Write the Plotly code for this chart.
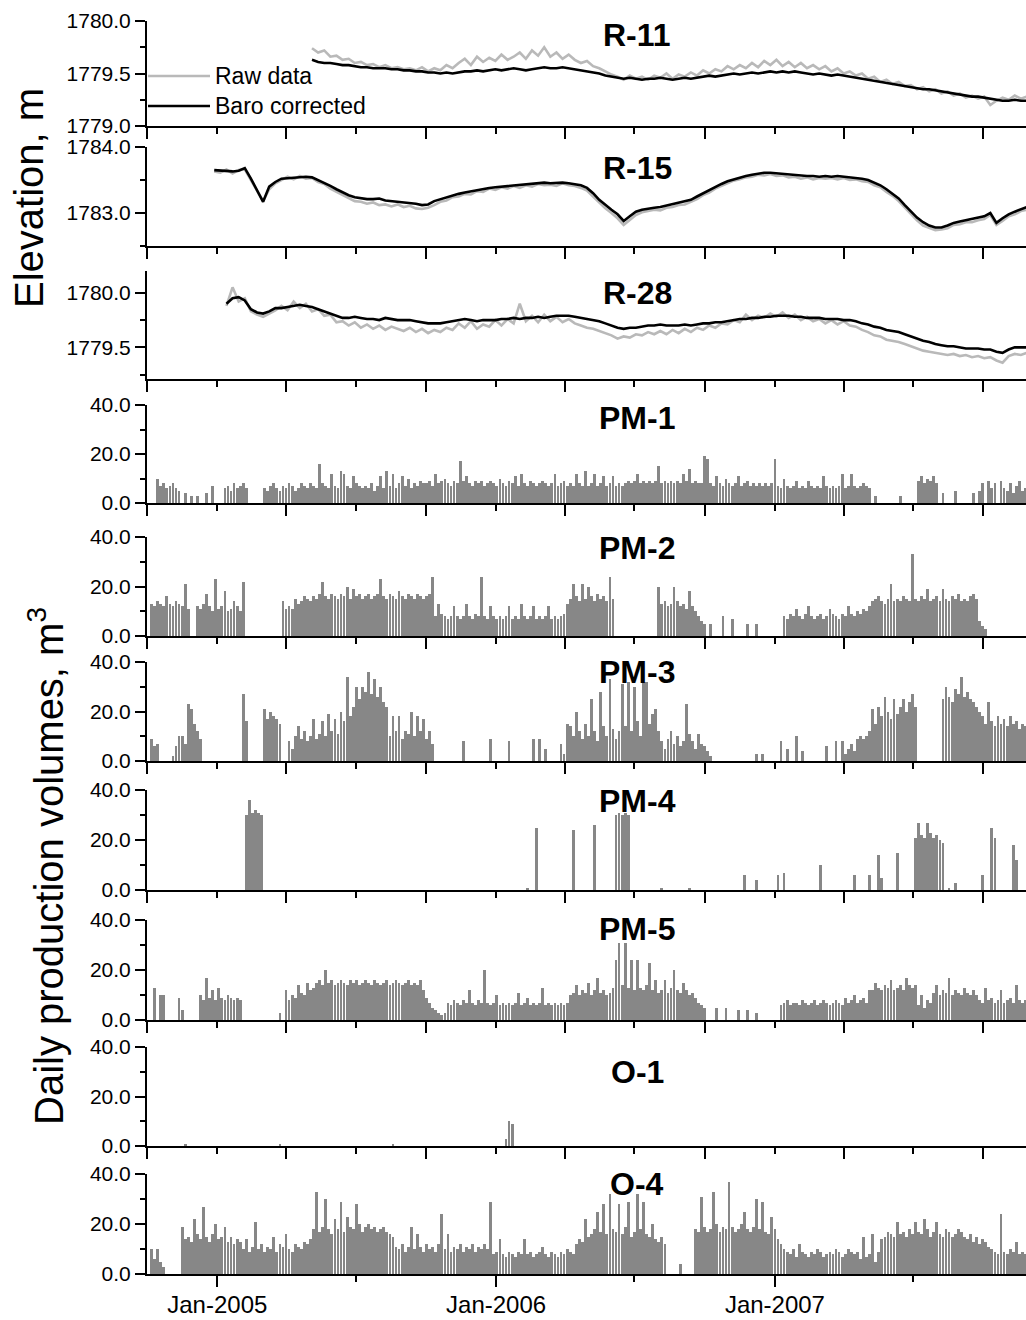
import pandas as pd
import plotly.graph_objects as go

FIG_W, FIG_H = 1026, 1320

# ------------------------------------------------------------------ data
X_START, X_END = "2004-10-01", "2007-11-25 17:00"
X_TICK_DATES = ["2005-01-01", "2006-01-01", "2007-01-01"]
X_TICK_LABELS = ["Jan-2005", "Jan-2006", "Jan-2007"]

LINE_STEP = "8D"
R11_START = "2005-05-05"
R11_RAW = [
    1779.74, 1779.70, 1779.72, 1779.66, 1779.67, 1779.63, 1779.64, 1779.60, 1779.61, 1779.58,
    1779.59, 1779.56, 1779.58, 1779.55, 1779.56, 1779.54, 1779.55, 1779.53, 1779.56, 1779.52,
    1779.55, 1779.53, 1779.58, 1779.55, 1779.60, 1779.64, 1779.58, 1779.66, 1779.61, 1779.65,
    1779.62, 1779.68, 1779.63, 1779.66, 1779.70, 1779.64, 1779.72, 1779.67, 1779.75, 1779.66,
    1779.70, 1779.64, 1779.68, 1779.63, 1779.60, 1779.62, 1779.57, 1779.55, 1779.52, 1779.49,
    1779.47, 1779.44, 1779.48, 1779.45, 1779.47, 1779.44, 1779.48, 1779.46, 1779.50, 1779.45,
    1779.49, 1779.47, 1779.51, 1779.48, 1779.53, 1779.50, 1779.54, 1779.52, 1779.57, 1779.54,
    1779.58, 1779.55, 1779.60, 1779.56, 1779.62, 1779.58, 1779.63, 1779.57, 1779.61, 1779.56,
    1779.60, 1779.55, 1779.58, 1779.54, 1779.57, 1779.52, 1779.55, 1779.50, 1779.52, 1779.48,
    1779.50, 1779.45, 1779.47, 1779.42, 1779.44, 1779.40, 1779.42, 1779.38, 1779.39, 1779.35,
    1779.37, 1779.33, 1779.35, 1779.31, 1779.33, 1779.29, 1779.31, 1779.27, 1779.29, 1779.26,
    1779.28, 1779.20, 1779.24, 1779.27, 1779.25, 1779.29, 1779.26, 1779.28,
]
R11_BARO = [
    1779.63, 1779.61, 1779.60, 1779.60, 1779.59, 1779.58, 1779.58, 1779.57, 1779.56, 1779.56,
    1779.55, 1779.55, 1779.55, 1779.54, 1779.54, 1779.53, 1779.53, 1779.52, 1779.52, 1779.51,
    1779.51, 1779.50, 1779.51, 1779.50, 1779.51, 1779.52, 1779.52, 1779.53, 1779.52, 1779.53,
    1779.54, 1779.53, 1779.54, 1779.55, 1779.54, 1779.53, 1779.54, 1779.55, 1779.56, 1779.55,
    1779.55, 1779.56, 1779.55, 1779.54, 1779.53, 1779.52, 1779.51, 1779.50, 1779.48, 1779.47,
    1779.46, 1779.45, 1779.46, 1779.45, 1779.44, 1779.45, 1779.45, 1779.46, 1779.45, 1779.44,
    1779.45, 1779.46, 1779.45, 1779.46, 1779.47, 1779.48, 1779.47, 1779.48, 1779.49, 1779.50,
    1779.49, 1779.50, 1779.51, 1779.50, 1779.51, 1779.52, 1779.51, 1779.52, 1779.51, 1779.52,
    1779.51, 1779.50, 1779.49, 1779.50, 1779.49, 1779.48, 1779.49, 1779.48, 1779.47, 1779.46,
    1779.45, 1779.44, 1779.43, 1779.42, 1779.41, 1779.40, 1779.39, 1779.38, 1779.37, 1779.36,
    1779.35, 1779.35, 1779.34, 1779.33, 1779.32, 1779.31, 1779.30, 1779.29, 1779.28, 1779.28,
    1779.27, 1779.26, 1779.25, 1779.24, 1779.24, 1779.25, 1779.24, 1779.24,
]

R15_START = "2004-12-28"
R15_RAW = [
    1783.63, 1783.61, 1783.66, 1783.60, 1783.65, 1783.66, 1783.50, 1783.33, 1783.18, 1783.36,
    1783.45, 1783.50, 1783.55, 1783.51, 1783.56, 1783.52, 1783.53, 1783.47, 1783.44, 1783.37,
    1783.32, 1783.27, 1783.22, 1783.18, 1783.17, 1783.14, 1783.16, 1783.12, 1783.13, 1783.10,
    1783.13, 1783.09, 1783.11, 1783.07, 1783.06, 1783.08, 1783.12, 1783.17, 1783.19, 1783.24,
    1783.25, 1783.29, 1783.28, 1783.33, 1783.32, 1783.37, 1783.35, 1783.39, 1783.37, 1783.41,
    1783.38, 1783.42, 1783.40, 1783.44, 1783.42, 1783.43, 1783.41, 1783.45, 1783.42, 1783.41,
    1783.38, 1783.34, 1783.25, 1783.16, 1783.07, 1783.00, 1782.92, 1782.82, 1782.90, 1782.97,
    1783.01, 1783.03, 1783.05, 1783.04, 1783.08, 1783.09, 1783.12, 1783.13, 1783.17, 1783.21,
    1783.27, 1783.31, 1783.37, 1783.41, 1783.45, 1783.49, 1783.51, 1783.54, 1783.55, 1783.58,
    1783.57, 1783.59, 1783.56, 1783.57, 1783.54, 1783.55, 1783.52, 1783.54, 1783.51, 1783.53,
    1783.52, 1783.53, 1783.51, 1783.53, 1783.50, 1783.51, 1783.48, 1783.47, 1783.42, 1783.39,
    1783.32, 1783.26, 1783.18, 1783.08, 1782.98, 1782.89, 1782.81, 1782.77, 1782.74, 1782.75,
    1782.77, 1782.82, 1782.83, 1782.86, 1782.86, 1782.89, 1782.91, 1782.97, 1782.82, 1782.88,
    1782.95, 1782.98, 1783.03, 1783.05,
]
R15_BARO = [
    1783.65, 1783.64, 1783.63, 1783.63, 1783.64, 1783.68, 1783.52, 1783.35, 1783.17, 1783.40,
    1783.47, 1783.52, 1783.53, 1783.54, 1783.55, 1783.55, 1783.54, 1783.50, 1783.46, 1783.41,
    1783.36, 1783.31, 1783.27, 1783.24, 1783.22, 1783.21, 1783.21, 1783.22, 1783.19, 1783.18,
    1783.18, 1783.17, 1783.16, 1783.14, 1783.12, 1783.13, 1783.18, 1783.21, 1783.24, 1783.27,
    1783.29, 1783.31, 1783.33, 1783.35, 1783.36, 1783.38, 1783.39, 1783.40, 1783.41, 1783.42,
    1783.42, 1783.43, 1783.44, 1783.45, 1783.46, 1783.45, 1783.46, 1783.46, 1783.45, 1783.44,
    1783.42, 1783.38, 1783.30, 1783.20, 1783.12, 1783.05, 1782.98, 1782.88, 1782.95, 1783.02,
    1783.05, 1783.07, 1783.08, 1783.09, 1783.11, 1783.13, 1783.15, 1783.17, 1783.20, 1783.25,
    1783.30, 1783.35, 1783.40, 1783.44, 1783.48, 1783.51, 1783.54, 1783.56, 1783.58, 1783.60,
    1783.61, 1783.61, 1783.60, 1783.59, 1783.58, 1783.57, 1783.56, 1783.56, 1783.56, 1783.55,
    1783.56, 1783.55, 1783.56, 1783.55, 1783.55, 1783.54, 1783.52, 1783.50, 1783.46, 1783.42,
    1783.36, 1783.29, 1783.22, 1783.12, 1783.02, 1782.93, 1782.86, 1782.81, 1782.78, 1782.78,
    1782.81, 1782.85, 1782.87, 1782.89, 1782.90, 1782.92, 1782.95, 1783.00, 1782.85, 1782.92,
    1782.98, 1783.02, 1783.06, 1783.09,
]

R28_START = "2005-01-13"
R28_RAW = [
    1779.88, 1780.05, 1779.92, 1779.95, 1779.83, 1779.80, 1779.78, 1779.81, 1779.84, 1779.88,
    1779.84, 1779.92, 1779.86, 1779.90, 1779.83, 1779.85, 1779.79, 1779.80, 1779.73, 1779.74,
    1779.70, 1779.73, 1779.68, 1779.71, 1779.67, 1779.70, 1779.66, 1779.69, 1779.67, 1779.65,
    1779.68, 1779.64, 1779.67, 1779.63, 1779.66, 1779.64, 1779.68, 1779.66, 1779.72, 1779.68,
    1779.74, 1779.67, 1779.71, 1779.69, 1779.75, 1779.70, 1779.76, 1779.72, 1779.90, 1779.74,
    1779.79, 1779.73, 1779.80, 1779.74, 1779.78, 1779.73, 1779.76, 1779.72, 1779.70, 1779.68,
    1779.67, 1779.65, 1779.63, 1779.61, 1779.58, 1779.60, 1779.59, 1779.62, 1779.61, 1779.64,
    1779.62, 1779.65, 1779.62, 1779.66, 1779.63, 1779.67, 1779.64, 1779.68, 1779.66, 1779.70,
    1779.68, 1779.72, 1779.71, 1779.75, 1779.73, 1779.80, 1779.75, 1779.79, 1779.77, 1779.81,
    1779.78, 1779.82, 1779.77, 1779.80, 1779.75, 1779.78, 1779.74, 1779.76, 1779.72, 1779.75,
    1779.71, 1779.74, 1779.70, 1779.69, 1779.66, 1779.64, 1779.61, 1779.60, 1779.57, 1779.56,
    1779.55, 1779.53, 1779.51, 1779.49, 1779.47, 1779.46, 1779.45, 1779.44, 1779.43, 1779.44,
    1779.42, 1779.43, 1779.41, 1779.42, 1779.40, 1779.41, 1779.38, 1779.36, 1779.42, 1779.44,
    1779.43, 1779.45,
]
R28_BARO = [
    1779.90, 1779.95, 1779.96, 1779.93, 1779.85, 1779.82, 1779.81, 1779.83, 1779.86, 1779.86,
    1779.87, 1779.88, 1779.89, 1779.88, 1779.87, 1779.85, 1779.83, 1779.81, 1779.79, 1779.77,
    1779.77, 1779.78, 1779.77, 1779.76, 1779.76, 1779.75, 1779.77, 1779.76, 1779.75, 1779.75,
    1779.75, 1779.74, 1779.73, 1779.72, 1779.72, 1779.72, 1779.73, 1779.74, 1779.75, 1779.76,
    1779.75, 1779.74, 1779.75, 1779.75, 1779.75, 1779.76, 1779.76, 1779.77, 1779.76, 1779.77,
    1779.77, 1779.78, 1779.77, 1779.78, 1779.79, 1779.79, 1779.79, 1779.78, 1779.77, 1779.76,
    1779.75, 1779.74, 1779.72, 1779.70, 1779.68, 1779.67, 1779.68, 1779.68, 1779.69, 1779.70,
    1779.70, 1779.71, 1779.70, 1779.70, 1779.70, 1779.71, 1779.70, 1779.71, 1779.72, 1779.72,
    1779.73, 1779.73, 1779.74, 1779.75, 1779.76, 1779.76, 1779.77, 1779.77, 1779.78, 1779.78,
    1779.79, 1779.79, 1779.79, 1779.78, 1779.78, 1779.77, 1779.77, 1779.77, 1779.76, 1779.76,
    1779.76, 1779.75, 1779.75, 1779.74, 1779.72, 1779.71, 1779.69, 1779.68, 1779.66, 1779.65,
    1779.64, 1779.62, 1779.60, 1779.58, 1779.56, 1779.55, 1779.53, 1779.52, 1779.51, 1779.51,
    1779.50, 1779.49, 1779.49, 1779.49, 1779.48, 1779.48, 1779.46, 1779.45, 1779.48, 1779.50,
    1779.50, 1779.50,
]

# daily production volumes (m3), one value per 4-day bin from BAR_START
BAR_START = "2004-10-01"
BAR_STEP = "4D"
PM1 = [
    0, 0, 0,
    10, 7, 8, 6, 7, 8, 6, 5,
    0, 4, 0, 3, 0, 3, 0, 0, 4, 0, 7,
    0, 0, 0,
    6, 7, 5, 8, 6, 7, 8, 6,
    0, 0, 0, 0, 0,
    6, 5, 7, 8, 6, 5, 7, 6, 8, 7, 5, 6, 8, 7, 6, 8,
    7, 6, 16, 8, 7, 6, 12, 7, 6, 13, 12, 7, 6, 11, 8, 7, 6, 7,
    6, 8, 5, 7, 11, 6, 13, 7, 12, 6, 8, 11, 7, 10, 6, 8, 7, 9, 8,
    8, 9, 7, 12, 8, 9, 10, 8, 7, 9, 8, 17, 9, 11, 8, 7, 9, 8, 9, 7, 8, 9,
    8, 7, 10, 8, 7, 9, 8, 11, 7, 12, 8, 7, 9, 8, 7, 8, 9, 8, 7, 8, 12, 7, 8, 9, 7, 8,
    7, 12, 8, 7, 13, 7, 8, 12, 7, 8, 11, 7, 8, 11, 7, 8, 7, 8,
    9, 8, 9, 12, 8, 9, 8, 9, 8, 9, 15, 8, 9, 8, 9, 8, 9, 8, 12, 9, 14, 8, 9, 8, 8, 19,
    18, 8, 7, 11, 8, 7, 10, 8, 7, 8, 11, 7, 8, 9, 7, 8, 7, 8, 7, 8, 7, 8, 18,
    7, 6, 10, 7, 6, 7, 9, 6, 7, 6, 9, 7, 6, 7, 6, 11, 7, 6, 7, 6, 7, 12, 6, 7, 12, 7, 6, 7, 8, 7, 6,
    0, 3, 0, 0, 0, 0, 0, 0, 0, 3, 0, 0, 0, 0, 0,
    9, 11, 8, 10, 9, 11, 8,
    0, 4, 0, 0, 0, 5, 0, 0, 0, 0, 0,
    4, 0, 5, 8, 0, 9, 6, 8, 0, 9, 6, 5, 8, 4, 7, 9, 5, 6,
]
PM2 = [
    0,
    13, 12, 14, 13, 12, 16, 13, 12, 14, 13, 12, 21, 11,
    0, 0,
    12, 11, 13, 17, 12, 10, 23, 11, 12, 18, 10, 11, 14, 12, 10, 22,
    0, 0, 0, 0, 0, 0, 0, 0, 0, 0, 0, 0,
    14, 11, 12, 11, 15, 13, 14, 16, 15, 14,
    16, 15, 17, 22, 16, 15, 17, 16, 15, 17, 16, 20, 15, 19, 16, 17, 15, 16, 17, 15,
    16, 17, 23, 16, 15, 17, 16, 15, 18, 16, 15, 17, 16, 15, 17, 16, 15, 16, 17, 24,
    8, 13, 9, 8, 7, 8, 12, 8, 7, 8, 13, 8, 7, 9, 8, 24, 8, 7, 12, 8,
    7, 8, 7, 8, 12, 7, 8, 7, 13, 8, 7, 8, 12, 7, 8, 7, 8, 12, 7, 8, 7, 8, 9,
    13, 15, 21, 16, 14, 21, 15, 20, 16, 14, 17, 15, 16, 14, 24, 15,
    0, 0, 0, 0, 0, 0, 0, 0, 0, 0, 0, 0, 0, 0,
    20, 13, 14, 12, 13, 20, 14, 12, 13, 11, 18, 12, 10, 8, 6, 5,
    0, 5, 0, 0, 0, 8, 0, 0, 7, 0, 0, 0, 0, 5, 0, 0, 5, 0, 0, 0, 0, 0, 0, 0, 0,
    8, 7, 9, 8, 11, 8, 7, 9, 12, 8, 7, 8, 9, 7, 8, 11, 9, 8, 7, 9, 8, 12, 9, 8, 10, 9, 11, 10, 12,
    14, 15, 16, 14, 13, 15, 21, 14, 15, 14, 16, 15, 14, 33, 15, 14, 16, 15, 19, 14,
    15, 16, 14, 19, 15, 14, 16, 15, 17, 14, 15, 14, 16, 17, 15,
    6, 4, 3,
    0, 0, 0, 0, 0, 0, 0, 0, 0, 0, 0, 0, 0,
]
PM3 = [
    0,
    9, 6, 7,
    0, 0, 0, 0,
    2, 6, 10, 10, 7, 23, 21, 15, 12, 9,
    0, 0, 0, 0, 0, 0, 0, 0, 0, 0, 0, 0, 0,
    27, 16,
    0, 0, 0, 0, 0,
    21, 17, 20, 18, 17, 15,
    0, 0,
    8, 5, 10, 14, 9,
    12, 8, 10, 17, 9, 11, 16, 10, 19, 12, 17, 11, 20,
    16, 34, 18, 22, 30, 25, 30, 28, 36, 27, 33, 26, 30, 24, 22,
    10, 18, 12, 18, 9, 12, 11, 20, 10, 18, 12, 17, 9, 12, 7,
    0, 0, 0, 0, 0, 0, 0, 0, 0,
    8,
    0, 0, 0, 0, 0, 0, 0, 0,
    9,
    0, 0, 0, 0, 0,
    8,
    0, 0, 0, 0, 0, 0, 0,
    9, 0, 9, 0, 5,
    0, 0, 0, 0,
    7, 3, 15, 14, 10, 20, 12, 9, 15,
    10, 25, 12, 8, 28, 14, 10, 33, 13, 9, 12, 31,
    14, 32, 12, 30, 16, 10, 32, 32, 15, 19, 21,
    12, 8, 5, 9, 12, 7, 10, 6, 8, 23, 11,
    8, 5, 11, 7, 6, 4, 2, 0,
    0, 0, 0, 0, 0, 0, 0, 0, 0, 0, 0, 0, 0,
    3, 0, 3, 0, 0, 0, 0, 0, 8, 0, 5, 0, 0, 10, 0, 4,
    0, 0, 0, 0, 0, 0, 0, 6, 0, 0, 8, 0, 8, 3, 5, 7, 4,
    9, 10, 9, 10,
    12, 21, 15, 22, 18, 26, 20, 17, 25, 19, 22, 25, 20, 24, 27, 22,
    0, 0, 0, 0, 0, 0, 0, 0,
    25, 30, 26, 24, 29, 27, 34, 26, 28, 25, 24, 22, 20, 18,
    15, 24, 16, 14, 18, 15, 17, 14, 18, 15, 16, 13, 15, 14,
]
PM4 = [
    0, 0, 0, 0, 0, 0, 0, 0, 0, 0, 0, 0, 0, 0, 0, 0, 0, 0, 0, 0, 0, 0, 0, 0,
    0, 0, 0, 0, 0, 0, 0, 0, 30, 36, 31, 32, 31, 30, 0, 0, 0, 0, 0, 0, 0, 0, 0, 0,
    0, 0, 0, 0, 0, 0, 0, 0, 0, 0, 0, 0, 0, 0, 0, 0, 0, 0, 0, 0, 0, 0, 0, 0,
    0, 0, 0, 0, 0, 0, 0, 0, 0, 0, 0, 0, 0, 0, 0, 0, 0, 0, 0, 0, 0, 0, 0, 0,
    0, 0, 0, 0, 0, 0, 0, 0, 0, 0, 0, 0, 0, 0, 0, 0, 0, 0, 0, 0, 0, 0, 0, 0,
    0, 0, 0, 0, 1, 0, 0, 25, 0, 0, 0, 0, 0, 0, 0, 0, 0, 0, 0, 24, 0, 0, 0, 0,
    0, 0, 26, 0, 0, 0, 0, 0, 0, 30, 31, 30, 31, 30, 0, 0, 0, 0, 0, 0, 0, 0, 0, 0,
    1, 0, 0, 0, 0, 0, 0, 0, 0, 1, 0, 0, 0, 0, 0, 0, 0, 0, 0, 0, 0, 0, 0, 0,
    0, 0, 0, 6, 0, 0, 0, 4, 0, 0, 0, 0, 0, 0, 6, 0, 7, 0, 0, 0, 0, 0, 0, 0,
    0, 0, 0, 0, 10, 0, 0, 0, 0, 0, 0, 0, 0, 0, 0, 6, 0, 0, 0, 0, 6, 0, 0, 14,
    5, 0, 0, 0, 0, 15, 0, 0, 0, 0, 0, 21, 27, 22, 21, 27, 23, 21, 22, 20, 19, 0, 1, 0,
    3, 0, 0, 0, 0, 0, 0, 0, 0, 6, 0, 0, 25, 21, 0, 0, 0, 0, 0, 18, 12, 0, 0, 0,
]
PM5 = [
    0, 0,
    13, 0, 10, 10,
    0, 0, 0, 0,
    9, 4,
    0, 0, 0, 0, 0,
    10, 8, 17, 9, 12, 8, 13, 9, 8, 10, 9, 8, 9, 8,
    0, 0, 0, 0, 0, 0, 0, 0, 0, 0, 0, 0,
    3, 0,
    12, 8, 10, 9, 14, 11, 10, 15, 12, 13,
    15, 16, 14, 20, 15, 16, 14, 15, 16, 15, 14, 16, 15,
    16, 14, 15, 16, 15, 14, 16, 15, 14, 15, 16, 14, 15, 16, 15, 14, 15, 16, 14, 15, 14, 16,
    12, 9, 7, 5, 4, 3, 2, 3,
    7, 6, 8, 7, 6, 8, 7, 12, 7, 6, 8, 7, 20, 7, 6,
    7, 10, 6, 7, 6, 7, 6, 7, 11, 6, 7, 9, 6, 7, 6, 7, 13, 6, 7, 6, 7, 6, 7, 6, 7, 10,
    11, 14, 10, 12, 11, 15, 10, 12, 17, 11, 12, 10, 11,
    13, 24, 31, 14, 31, 13, 24, 12, 24, 13, 12, 14,
    23, 12, 16, 11, 12, 16, 11, 13, 20, 12, 11, 15, 12, 10, 11, 9, 7, 6, 5,
    0, 0, 0, 5, 0, 0, 5, 0, 0, 0, 4, 0, 0, 4, 0, 0, 3, 0, 0, 0, 0, 0, 0, 0,
    6, 7, 8, 6, 7, 7, 6, 8, 7, 6, 7, 8, 6, 7, 8, 7, 6, 7, 8, 7, 6, 9, 7, 8, 10, 7, 8, 9, 7, 12,
    12, 15, 13, 12, 14, 13, 16, 12, 13, 14, 12, 17, 14, 13, 14,
    6, 10, 5, 8, 7,
    11, 14, 10, 12, 11, 17, 10, 12, 11, 10, 13, 11, 10, 12, 10,
    8, 7, 13, 8, 9, 7, 8, 12, 7, 8, 9, 7, 14, 8, 7, 8,
]
O1 = [
    0, 0, 0, 0, 0, 0, 0, 0, 0, 0, 0, 0, 0.5, 0, 0, 0, 0, 0, 0, 0, 0, 0, 0, 0,
    0, 0, 0, 0, 0, 0, 0, 0, 0, 0, 0, 0, 0, 0, 0, 0, 0, 0, 0, 0.5, 0, 0, 0, 0,
    0, 0, 0, 0, 0, 0, 0, 0, 0, 0, 0, 0, 0, 0, 0, 0, 0, 0, 0, 0, 0, 0, 0, 0,
    0, 0, 0, 0, 0, 0, 0, 0, 0.5, 0, 0, 0, 0, 0, 0, 0, 0, 0, 0, 0, 0, 0, 0, 0,
    0, 0, 0, 0, 0, 0, 0, 0, 0, 0, 0, 0, 0, 0, 0, 0, 0, 0, 0, 0, 0, 3, 10, 9,
    0, 0, 0, 0, 0, 0, 0, 0, 0, 0, 0, 0, 0, 0, 0, 0, 0, 0, 0, 0, 0, 0, 0, 0,
    0, 0, 0, 0, 0, 0, 0, 0, 0, 0, 0, 0, 0, 0, 0, 0, 0, 0, 0, 0, 0, 0, 0, 0,
    0, 0, 0, 0, 0, 0, 0, 0, 0, 0, 0, 0, 0, 0, 0, 0, 0, 0, 0, 0, 0, 0, 0, 0,
    0, 0, 0, 0, 0, 0, 0, 0, 0, 0, 0, 0, 0, 0, 0, 0, 0, 0, 0, 0, 0, 0, 0, 0,
    0, 0, 0, 0, 0, 0, 0, 0, 0, 0, 0, 0, 0, 0, 0, 0, 0, 0, 0, 0, 0, 0, 0, 0,
    0, 0, 0, 0, 0, 0, 0, 0, 0, 0, 0, 0, 0, 0, 0, 0, 0, 0, 0, 0, 0, 0, 0, 0,
    0, 0, 0, 0, 0, 0, 0, 0, 0, 0, 0, 0, 0, 0, 0, 0, 0, 0, 0, 0, 0, 0, 0, 0,
]
O4 = [
    0,
    10, 6, 10, 5, 3,
    0, 0, 0, 0, 0,
    19, 14, 15, 13, 22, 16, 14, 27, 15, 13, 16, 20, 14, 15, 19, 13, 15, 12, 14, 13,
    10, 14, 9, 11, 21, 10, 12, 9, 11, 10, 15, 9, 12, 11, 16, 10, 9, 12, 11, 10, 13, 12, 14,
    18, 33, 17, 19, 30, 18, 16, 22, 18, 29, 17, 23, 19, 18, 28, 20, 17, 19, 20, 18, 19, 17, 18, 19, 17, 16, 15,
    11, 10, 12, 9, 11, 19, 10, 16, 11, 9, 12, 10, 11, 9, 12, 24, 10, 16, 9, 11, 10, 12, 9, 11, 10, 12, 9, 11, 10, 12, 10, 29,
    8, 9, 14, 8, 7, 9, 8, 7, 9, 8, 14, 8, 9, 7, 8, 9, 11, 8, 7, 9, 8, 7, 9, 8, 10, 9, 8, 12,
    14, 13, 22, 15, 16, 18, 25, 17, 28, 16, 32, 18, 17, 28, 16, 19, 29, 15, 17, 32, 18, 29, 16, 15, 20, 14, 13, 15, 12,
    0, 0, 0, 0, 4, 0, 0, 0, 0,
    18, 17, 31, 19, 17, 18, 33, 20, 17, 19, 18, 37, 19, 17, 18, 20, 25, 18, 17, 19, 30, 18, 29, 17, 16, 23, 18, 14, 12, 10,
    9, 8, 10, 7, 12, 9, 8, 7, 9, 8, 10, 9, 7, 8, 9, 8, 10, 9, 7, 8, 10, 9, 8, 9,
    6, 15, 7, 8, 16, 5, 9,
    14, 15, 17, 16, 15, 21, 16, 17, 15, 18, 16, 21, 17, 16, 22, 18, 15, 17, 21, 16,
    15, 18, 17, 15, 16, 18, 17, 15, 14, 16, 13, 15, 12, 14, 13, 11, 10,
    9, 8, 24, 9, 8, 10, 9, 13, 8, 9, 8,
]

LINE_PANELS = [
    ("R-11", R11_START, R11_RAW, R11_BARO),
    ("R-15", R15_START, R15_RAW, R15_BARO),
    ("R-28", R28_START, R28_RAW, R28_BARO),
]
BAR_PANELS = [("PM-1", PM1), ("PM-2", PM2), ("PM-3", PM3), ("PM-4", PM4),
              ("PM-5", PM5), ("O-1", O1), ("O-4", O4)]

# ------------------------------------------------------------------ layout
FONT = "Arial, 'Liberation Sans', sans-serif"
PLOT_L = 147
# panel (top px, bottom px), title centre px
PANEL_PX = [(21, 126), (147, 246), (271, 379), (405, 503), (537, 636),
            (662, 761), (790, 890), (920, 1020), (1047, 1146), (1174, 1274)]
TITLE_PX = [35, 168, 293, 418, 548, 672, 801, 929, 1072, 1184]
Y_RANGES = [[1779.0, 1780.0], [1782.5, 1784.0], [1779.21, 1780.2]] + [[0, 40]] * 7
Y_MAJOR = [[1779.0, 1779.5, 1780.0], [1783.0, 1784.0], [1779.5, 1780.0]] + [[0, 20, 40]] * 7
Y_MINOR = [[1779.25, 1779.75], [1782.5, 1783.5], [1779.25, 1779.75]] + [[10, 30]] * 7

INNER_MAJOR = ["2004-10-01", "2005-04-01", "2005-10-01", "2006-04-01",
               "2006-10-01", "2007-04-01", "2007-10-01"]
INNER_MINOR = ["2005-01-01", "2005-07-01", "2006-01-01", "2006-07-01",
               "2007-01-01", "2007-07-01"]
BOTTOM_MINOR = ["2005-07-01", "2006-07-01", "2007-07-01"]


def yfrac(px):
    return 1 - px / FIG_H


def xfrac(px):
    return (px - PLOT_L) / (FIG_W - PLOT_L)


fig = go.Figure()

for k, (name, start, raw, baro) in enumerate(LINE_PANELS):
    ax = "" if k == 0 else str(k + 1)
    x = pd.date_range(start, periods=len(raw), freq=LINE_STEP)
    fig.add_trace(go.Scatter(x=x, y=raw, mode="lines", name="Raw data",
                             line=dict(color="#b9b9b9", width=2.6),
                             xaxis="x" + ax, yaxis="y" + ax))
    xb = pd.date_range(start, periods=len(baro), freq=LINE_STEP)
    fig.add_trace(go.Scatter(x=xb, y=baro, mode="lines", name="Baro corrected",
                             line=dict(color="black", width=2.6),
                             xaxis="x" + ax, yaxis="y" + ax))

for j, (name, vals) in enumerate(BAR_PANELS):
    ax = str(j + 4)
    x = pd.date_range(BAR_START, periods=len(vals), freq=BAR_STEP) + pd.Timedelta(days=2)
    fig.add_trace(go.Bar(x=x, y=vals, width=3.6 * 86400000,
                         marker=dict(color="#878787", line=dict(width=0)),
                         xaxis="x" + ax, yaxis="y" + ax))

layout = dict(
    width=FIG_W, height=FIG_H, template="none",
    margin=dict(l=PLOT_L, r=0, t=0, b=0, autoexpand=False),
    paper_bgcolor="white", plot_bgcolor="white",
    showlegend=False, bargap=0,
    font=dict(family=FONT, color="black"),
)

for k in range(10):
    ax = "" if k == 0 else str(k + 1)
    top, bot = PANEL_PX[k]
    last = (k == 9)
    xa = dict(type="date", range=[X_START, X_END], domain=[0, 1],
              anchor="y" + ax, showline=True, linecolor="black", linewidth=2,
              showgrid=False, zeroline=False, ticks="outside",
              tickcolor="black", tickwidth=2, ticklen=11, automargin=False)
    if last:
        xa.update(tickmode="array", tickvals=X_TICK_DATES, ticktext=X_TICK_LABELS,
                  showticklabels=True, tickfont=dict(size=24, family=FONT),
                  ticklabelstandoff=-3,
                  minor=dict(tickmode="array", tickvals=BOTTOM_MINOR, ticks="outside",
                             ticklen=6, tickwidth=2, tickcolor="black"))
    else:
        xa.update(tickmode="array", tickvals=INNER_MAJOR, showticklabels=False,
                  minor=dict(tickmode="array", tickvals=INNER_MINOR, ticks="outside",
                             ticklen=6, tickwidth=2, tickcolor="black"))
    ya = dict(domain=[yfrac(bot), yfrac(top)], range=Y_RANGES[k], anchor="x" + ax,
              showline=True, linecolor="black", linewidth=2, showgrid=False,
              zeroline=False, ticks="outside", tickcolor="black", tickwidth=2,
              ticklen=10, tickmode="array", tickvals=Y_MAJOR[k], tickformat=".1f",
              tickfont=dict(size=21, family=FONT), automargin=False,
              minor=dict(tickmode="array", tickvals=Y_MINOR[k], ticks="outside",
                         ticklen=5, tickwidth=2, tickcolor="black"))
    layout["xaxis" + ax] = xa
    layout["yaxis" + ax] = ya

names = [p[0] for p in LINE_PANELS] + [p[0] for p in BAR_PANELS]
annotations = []
for k, nm in enumerate(names):
    annotations.append(dict(text="<b>%s</b>" % nm, xref="paper", yref="paper",
                            x=xfrac(637), y=yfrac(TITLE_PX[k]), xanchor="center",
                            yanchor="middle", showarrow=False,
                            font=dict(size=32, family=FONT, color="black")))

# legend (inside R-11 panel)
LEGEND_ITEMS = [("Raw data", "#b9b9b9", 76), ("Baro corrected", "black", 106)]
shapes = []
for label, color, ypx in LEGEND_ITEMS:
    shapes.append(dict(type="line", xref="paper", yref="paper",
                       x0=xfrac(148), x1=xfrac(210), y0=yfrac(ypx), y1=yfrac(ypx),
                       line=dict(color=color, width=2.6)))
    annotations.append(dict(text=label, xref="paper", yref="paper",
                            x=xfrac(213), y=yfrac(ypx), xanchor="left",
                            yanchor="middle", showarrow=False,
                            font=dict(size=23, family=FONT, color="black")))

annotations.append(dict(text="Elevation, m", textangle=-90, xref="paper", yref="paper",
                        x=xfrac(29), y=yfrac(198), xanchor="center", yanchor="middle",
                        showarrow=False, font=dict(size=40, family=FONT, color="black")))
annotations.append(dict(text="Daily production volumes, m<sup>3</sup>", textangle=-90,
                        xref="paper", yref="paper", x=xfrac(46), y=yfrac(866),
                        xanchor="center", yanchor="middle", showarrow=False,
                        font=dict(size=40, family=FONT, color="black")))

layout["annotations"] = annotations
layout["shapes"] = shapes
fig.update_layout(**layout)
fig.write_html("out.html")
